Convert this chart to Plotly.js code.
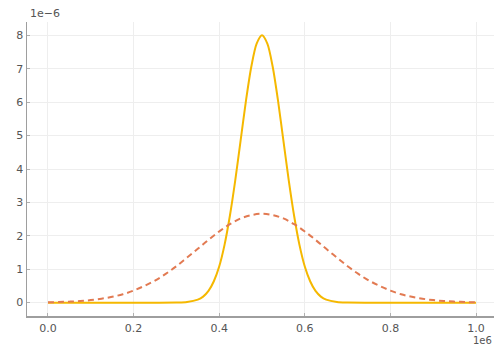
<!DOCTYPE html>
<html>
<head>
<meta charset="utf-8">
<script src="https://cdn.plot.ly/plotly-3.0.1.min.js"></script>
<style>html,body{margin:0;padding:0;background:#fff;overflow:hidden}</style>
</head>
<body>
<div id="chart" style="width:494px;height:347px"></div>
<script>
// x in units of 1e6, y in units of 1e-6 (as shown by the axis offset labels)
const xSolid = [0, 0.05, 0.1, 0.15, 0.2, 0.25, 0.3, 0.325, 0.35, 0.3625, 0.375, 0.3875, 0.4, 0.4125, 0.425, 0.4375, 0.45, 0.4625, 0.475, 0.4875, 0.5,
  0.5125, 0.525, 0.5375, 0.55, 0.5625, 0.575, 0.5875, 0.6, 0.6125, 0.625, 0.6375, 0.65, 0.675, 0.7, 0.75, 0.8, 0.85, 0.9, 0.95, 1.0];
const ySolid = [0, 0, 0, 0, 0, 0, 0.003, 0.018, 0.089, 0.18, 0.35, 0.64, 1.08, 1.73, 2.60, 3.66, 4.85, 6.04, 7.06, 7.75, 8.00,
  7.75, 7.06, 6.04, 4.85, 3.66, 2.60, 1.73, 1.08, 0.64, 0.35, 0.18, 0.089, 0.018, 0.003, 0, 0, 0, 0, 0, 0];

const xDashed = [0, 0.025, 0.05, 0.075, 0.1, 0.125, 0.15, 0.175, 0.2, 0.225, 0.25, 0.275, 0.3, 0.325, 0.35, 0.375, 0.4, 0.425, 0.45, 0.475, 0.5,
  0.525, 0.55, 0.575, 0.6, 0.625, 0.65, 0.675, 0.7, 0.725, 0.75, 0.775, 0.8, 0.825, 0.85, 0.875, 0.9, 0.925, 0.95, 0.975, 1.0];
const yDashed = [0.010, 0.018, 0.030, 0.048, 0.076, 0.117, 0.175, 0.25, 0.36, 0.50, 0.66, 0.86, 1.09, 1.35, 1.61, 1.88, 2.13, 2.35, 2.52, 2.62, 2.66,
  2.62, 2.52, 2.35, 2.13, 1.88, 1.61, 1.35, 1.09, 0.86, 0.66, 0.50, 0.36, 0.25, 0.175, 0.117, 0.076, 0.048, 0.030, 0.018, 0.010];

const xTicks = [0, 0.2, 0.4, 0.6, 0.8, 1.0];
const xTickText = ['0.0', '0.2', '0.4', '0.6', '0.8', '1.0'];
const yTicks = [0, 1, 2, 3, 4, 5, 6, 7, 8];
const yTickText = ['0', '1', '2', '3', '4', '5', '6', '7', '8'];

const traces = [
  {x: xSolid, y: ySolid, type: 'scatter', mode: 'lines',
   line: {color: '#f5b800', width: 2, shape: 'spline', smoothing: 0.8}, hoverinfo: 'skip'},
  {x: xDashed, y: yDashed, type: 'scatter', mode: 'lines',
   line: {color: '#e27a52', width: 2, dash: '6px,4px', shape: 'spline'}, hoverinfo: 'skip'}
];

const axisCommon = {
  showline: true, linecolor: '#9e9e9e', linewidth: 1.5,
  showgrid: true, gridcolor: '#eeeeee', gridwidth: 1,
  zeroline: false, ticks: 'inside', ticklen: 3, tickcolor: '#b0b0b0',
  tickfont: {family: 'DejaVu Sans', size: 11, color: '#555'}
};

const layout = {
  width: 494, height: 347,
  margin: {l: 27, r: 0, t: 22, b: 31},
  paper_bgcolor: '#fff', plot_bgcolor: '#fff',
  showlegend: false,
  xaxis: Object.assign({}, axisCommon, {range: [-0.049, 1.042], tickvals: xTicks, ticktext: xTickText, ticklabelstandoff: 1}),
  yaxis: Object.assign({}, axisCommon, {range: [-0.4, 8.4], tickvals: yTicks, ticktext: yTickText}),
  annotations: [
    {text: '1e\u22126', xref: 'paper', yref: 'paper', x: 0, y: 1, xanchor: 'left', yanchor: 'bottom',
     xshift: 1, yshift: 0, showarrow: false, font: {family: 'DejaVu Sans', size: 11, color: '#555'}},
    {text: '1e6', xref: 'paper', yref: 'paper', x: 1, y: 0, xanchor: 'right', yanchor: 'top',
     xshift: -1, yshift: -18, borderpad: 0, showarrow: false, font: {family: 'DejaVu Sans', size: 10, color: '#555'}}
  ]
};

Plotly.newPlot('chart', traces, layout, {staticPlot: true, displayModeBar: false});
</script>
</body>
</html>
